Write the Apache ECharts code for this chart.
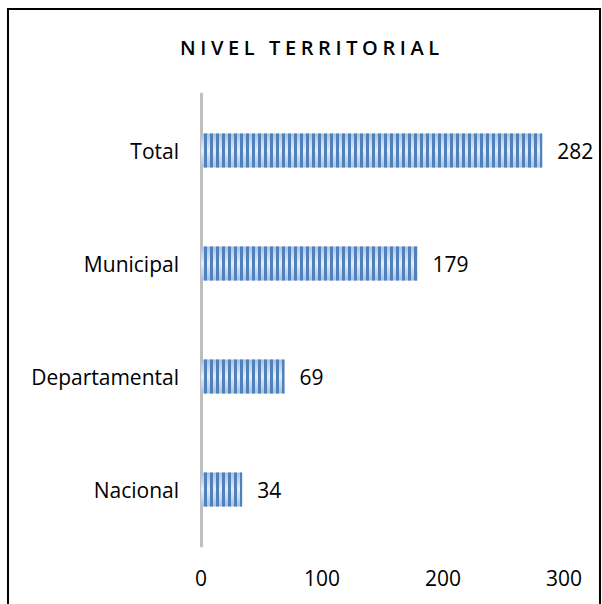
<!DOCTYPE html>
<html>
<head>
<meta charset="utf-8">
<script src="https://cdn.jsdelivr.net/npm/echarts@6/dist/echarts.min.js"></script>
<style>
  html, body { margin: 0; padding: 0; background: #fff; }
  #chart { width: 602px; height: 604px; }
  /* spaced-out title, like the original */
  #chart text[style*="600"] { letter-spacing: 4.6px; }
</style>
</head>
<body>
<div id="chart"></div>
<script>
// datos
const categories = ['Nacional', 'Departamental', 'Municipal', 'Total']
const values = [34, 69, 179, 282]
const xTicks = [0, 100, 200, 300]

const font = 'Open Sans'

const chart = echarts.init(document.getElementById('chart'), null, { renderer: 'svg' })

chart.setOption({
  animation: false,
  title: {
    text: 'NIVEL TERRITORIAL',
    left: 175,
    top: 32,
    textStyle: {
      fontFamily: font,
      fontWeight: 600,
      fontSize: 20,
      color: '#000'
    }
  },
  graphic: [{
    type: 'rect',
    shape: { x: 8, y: 9, width: 592, height: 640 },
    style: { fill: 'none', stroke: '#000', lineWidth: 2 },
    silent: true
  }],
  grid: {
    left: 201,
    right: 38,
    top: 94,
    bottom: 58
  },
  xAxis: {
    type: 'value',
    min: xTicks[0],
    max: xTicks[xTicks.length - 1],
    interval: 100,
    axisLine: { show: false },
    axisTick: { show: false },
    splitLine: { show: false },
    axisLabel: {
      margin: 21,
      fontFamily: font,
      fontSize: 21,
      color: '#000'
    }
  },
  yAxis: {
    type: 'category',
    data: categories,
    axisLine: { show: true, lineStyle: { color: '#bfbfbf', width: 3 } },
    axisTick: { show: false },
    axisLabel: {
      margin: 22,
      fontFamily: font,
      fontSize: 21,
      color: '#000'
    }
  },
  series: [{
    type: 'bar',
    data: values,
    barWidth: '30%',
    itemStyle: {
      color: new echarts.graphic.LinearGradient(0, 0, 0, 1, [
        { offset: 0, color: '#a9c0e0' },
        { offset: 0.5, color: '#e6edf7' },
        { offset: 1, color: '#a9c0e0' }
      ]),
      decal: {
        symbol: 'rect',
        symbolSize: 1,
        dashArrayX: [3, 3],
        dashArrayY: [40, 0],
        rotation: 0,
        color: '#4f81bd'
      }
    },
    label: {
      show: true,
      position: 'right',
      distance: 15,
      fontFamily: font,
      fontSize: 21,
      color: '#000'
    }
  }]
})
</script>
</body>
</html>
